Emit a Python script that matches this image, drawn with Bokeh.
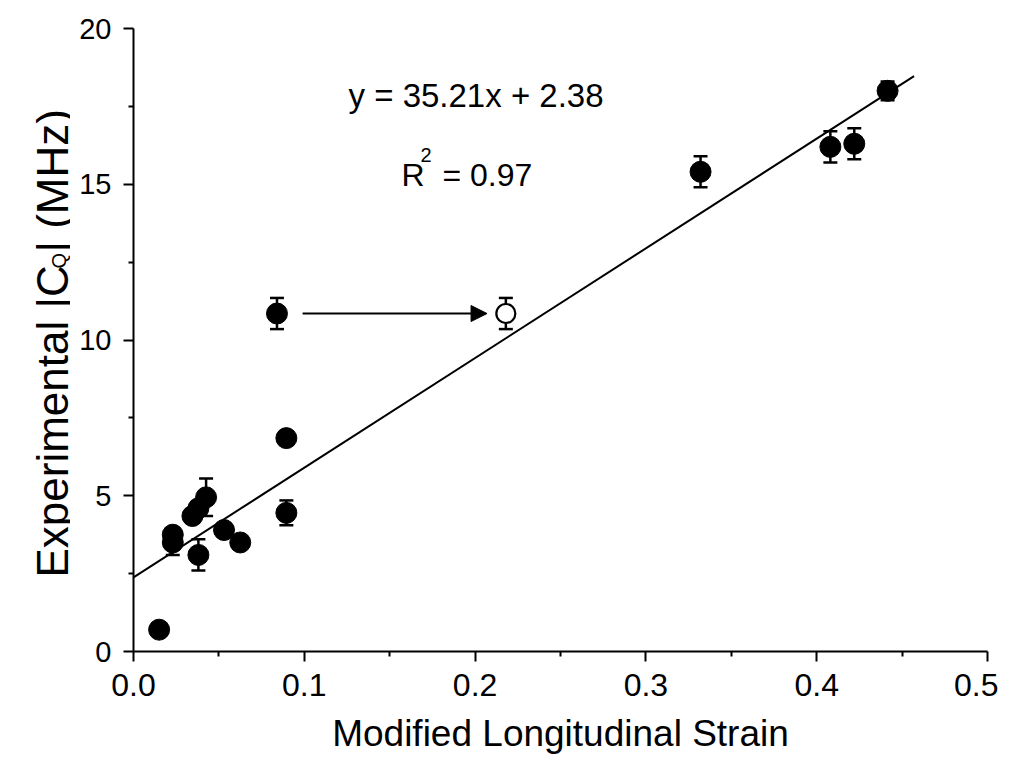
import math
from bokeh.plotting import figure
from bokeh.layouts import row
from bokeh.models import (ColumnDataSource, Whisker, TeeHead, Arrow, NormalHead,
                          Label, FixedTicker, Range1d)
from bokeh.embed import file_html
from bokeh.resources import INLINE

# ---------------- data ----------------
strain = [0.015, 0.023, 0.023, 0.0345, 0.038, 0.0425, 0.038, 0.053, 0.0625,
          0.0895, 0.0895, 0.084, 0.332, 0.408, 0.422, 0.4415]
cq = [0.7, 3.75, 3.5, 4.35, 4.6, 4.95, 3.1, 3.9, 3.5,
      6.85, 4.45, 10.85, 15.4, 16.2, 16.3, 18.0]
cq_err = [0.2, 0.2, 0.4, 0.2, 0.2, 0.6, 0.5, 0.2, 0.2,
          0.2, 0.4, 0.5, 0.5, 0.5, 0.5, 0.3]

open_strain = [0.218]
open_cq = [10.85]
open_err = [0.5]

fit_slope = 35.21
fit_intercept = 2.38
fit_x = [0.0, 0.457]

arrow_from = (0.099, 10.85)
arrow_to = (0.207, 10.85)

x_ticks = [0.0, 0.1, 0.2, 0.3, 0.4, 0.5]
x_tick_labels = ["0.0", "0.1", "0.2", "0.3", "0.4", "0.5"]
x_minor = [0.05, 0.15, 0.25, 0.35, 0.45]
y_ticks = [0, 5, 10, 15, 20]
y_tick_labels = ["0", "5", "10", "15", "20"]
y_minor = [2.5, 7.5, 12.5, 17.5]

x_title = "Modified Longitudinal Strain"
y_title_parts = ["Experimental |C", "Q", "| (MHz)"]

FONT = "Liberation Sans"
H = 755
LEFT_W = 70
MAIN_W = 928
TOP = 28          # frame top (px)
BOTTOM = 651      # frame bottom (px)
FRAME_W = 854
FRAME_H = BOTTOM - TOP

# ---------------- main plot ----------------
p = figure(width=MAIN_W, height=H, output_backend="svg", toolbar_location=None,
           x_range=Range1d(0, 0.5), y_range=Range1d(0, 20),
           frame_width=FRAME_W, frame_height=FRAME_H,
           min_border_left=133 - LEFT_W, min_border_right=11, min_border_top=TOP,
           min_border_bottom=H - BOTTOM)
p.outline_line_color = None
p.xgrid.visible = False
p.ygrid.visible = False

for ax, ticks, minor, labels in ((p.xaxis[0], x_ticks, x_minor, x_tick_labels),
                                 (p.yaxis[0], y_ticks, y_minor, y_tick_labels)):
    ax.ticker = FixedTicker(ticks=ticks, minor_ticks=minor)
    ax.major_label_overrides = {t: l for t, l in zip(ticks, labels)}
    ax.axis_line_width = 2
    ax.axis_line_color = "black"
    ax.major_tick_line_width = 2
    ax.minor_tick_line_width = 2
    ax.major_tick_line_color = "black"
    ax.minor_tick_line_color = "black"
    ax.major_tick_out = 10
    ax.major_tick_in = 0
    ax.minor_tick_out = 5
    ax.minor_tick_in = 0
    ax.major_label_text_font = FONT
    ax.major_label_text_color = "black"
    ax.major_label_standoff = 12

p.xaxis[0].major_label_text_font_size = "32px"
p.yaxis[0].major_label_text_font_size = "29px"
p.xaxis[0].axis_label = x_title
p.xaxis[0].axis_label_text_font = FONT
p.xaxis[0].axis_label_text_font_size = "37px"
p.xaxis[0].axis_label_text_font_style = "normal"
p.xaxis[0].axis_label_text_color = "black"
p.xaxis[0].axis_label_standoff = 14

# fit line
p.line(fit_x, [fit_slope * v + fit_intercept for v in fit_x],
       line_color="black", line_width=2)

# error bars
src = ColumnDataSource(dict(x=strain, y=cq,
                            upper=[a + e for a, e in zip(cq, cq_err)],
                            lower=[a - e for a, e in zip(cq, cq_err)]))
src_open = ColumnDataSource(dict(x=open_strain, y=open_cq,
                                 upper=[a + e for a, e in zip(open_cq, open_err)],
                                 lower=[a - e for a, e in zip(open_cq, open_err)]))
for s in (src, src_open):
    w = Whisker(source=s, base="x", upper="upper", lower="lower",
                dimension="height", line_width=2.5, line_color="black",
                upper_head=TeeHead(size=14, line_width=2.5, line_color="black"),
                lower_head=TeeHead(size=14, line_width=2.5, line_color="black"),
                level="underlay")
    p.add_layout(w)

p.scatter("x", "y", source=src, size=21, fill_color="black", line_color="black",
          line_width=1)
p.scatter("x", "y", source=src_open, size=19, fill_color="white",
          line_color="black", line_width=2.2)

# arrow
p.add_layout(Arrow(x_start=arrow_from[0], y_start=arrow_from[1],
                   x_end=arrow_to[0], y_end=arrow_to[1], line_width=2,
                   line_color="black",
                   end=NormalHead(size=16, fill_color="black", line_color="black",
                                  line_width=1)))


def lab(fig, text, x, y, size, **kw):
    fig.add_layout(Label(x=x, y=y, text=text, text_font=FONT,
                         text_font_size=size, text_color="black", **kw))


lab(p, "y = 35.21x + 2.38", 0.1259, 17.86, "33px", text_baseline="alphabetic")
lab(p, "R", 0.1569, 15.30, "32px", text_baseline="alphabetic")
lab(p, "2", 0.1680, 15.94, "20px", text_baseline="alphabetic")
lab(p, "= 0.97", 0.1809, 15.30, "32px", text_baseline="alphabetic")

# ---------------- y title panel (its frame spans the same pixel rows) --------
yl = figure(width=LEFT_W, height=H, output_backend="svg", toolbar_location=None,
            x_axis_type=None, y_axis_type=None,
            frame_width=LEFT_W, frame_height=FRAME_H,
            x_range=Range1d(0, LEFT_W), y_range=Range1d(BOTTOM, TOP),
            min_border_left=0, min_border_right=0, min_border_top=TOP,
            min_border_bottom=H - BOTTOM)
yl.outline_line_color = None
yl.xgrid.visible = False
yl.ygrid.visible = False
ang = math.pi / 2
lab(yl, y_title_parts[0], 52, 577, "44px", angle=ang,
    text_align="left", text_baseline="alphabetic")
lab(yl, y_title_parts[1], 58, 268, "20px", angle=ang,
    text_align="left", text_baseline="alphabetic")
lab(yl, y_title_parts[2], 52, 252, "44px", angle=ang,
    text_align="left", text_baseline="alphabetic")

layout = row(yl, p, spacing=0)

open("out.html", "w").write(file_html(layout, INLINE))
